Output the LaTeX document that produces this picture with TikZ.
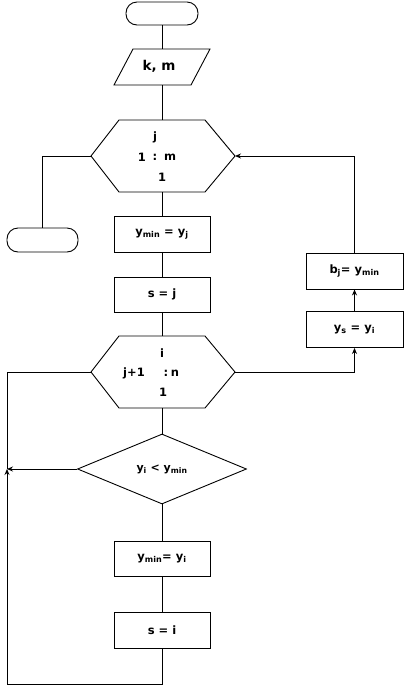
\documentclass[tikz,border=0pt]{standalone}
\usepackage{fontspec}
\setmainfont{DejaVu Sans}
\usetikzlibrary{shapes.geometric,arrows.meta}
\tikzset{
  ln/.style={line width=0.9pt, black},
  arr/.style={ln, -{Stealth[length=6pt,width=5pt]}},
  term/.style={draw, line width=0.9pt, rounded corners=11pt, minimum width=72pt, minimum height=23pt, inner sep=0pt},
  procbox/.style={draw, line width=0.9pt, minimum width=96pt, minimum height=36pt, inner sep=0pt, font=\bfseries\fontsize{11.5}{13}\selectfont},
  txt/.style={inner sep=0pt, font=\bfseries\fontsize{11.5}{13}\selectfont},
  cond/.style={draw, line width=0.9pt, diamond, minimum width=169pt, minimum height=70pt, inner sep=0pt, font=\bfseries\fontsize{11}{13}\selectfont}
}
\begin{document}
\begin{tikzpicture}[x=1pt,y=-1pt]
\useasboundingbox (0,0) rectangle (405,686);
% terminators
\node[term] (t1) at (162,13.5) {};
\node[term, minimum width=71pt, minimum height=24pt] (t2) at (42.5,240) {};
% parallelogram
\coordinate (pTL) at (133,49); \coordinate (pTR) at (210,49);
\coordinate (pBR) at (191,85); \coordinate (pBL) at (114,85);
\coordinate (pN) at (162,49); \coordinate (pS) at (162,85);
\draw[ln] (pTL) -- (pTR) -- (pBR) -- (pBL) -- cycle;
\node[txt, font=\bfseries\fontsize{13.5}{15}\selectfont] (km) at (159,66) {k, m};
% hexagon 1
\coordinate (h1W) at (91,156); \coordinate (h1E) at (235,156);
\coordinate (h1N) at (162,120); \coordinate (h1S) at (162,192);
\draw[ln] (h1W) -- (119,120) -- (205,120) -- (h1E) -- (205,192) -- (119,192) -- cycle;
\node[txt] (h1a) at (155,137) {j};
\node[txt] (h1b1) at (142,157) {1};
\node[txt] (h1b2) at (155,157) {:};
\node[txt] (h1b3) at (170,157) {m};
\node[txt] (h1c) at (162,177) {1};
% boxes
\node[procbox] (b1) at (162,234) {y\textsubscript{min} = y\textsubscript{j}};
\node[procbox, minimum height=35pt] (b2) at (162,294.5) {s = j};
% hexagon 2
\coordinate (h2W) at (91,372); \coordinate (h2E) at (235,372);
\coordinate (h2N) at (162,336); \coordinate (h2S) at (162,408);
\draw[ln] (h2W) -- (119,336) -- (205,336) -- (h2E) -- (205,408) -- (119,408) -- cycle;
\node[txt] (h2a) at (162,353) {i};
\node[txt] (h2b1) at (134,373) {j+1};
\node[txt] (h2b2) at (166,373) {:};
\node[txt] (h2b3) at (175,373) {n};
\node[txt] (h2c) at (163,392) {1};
% diamond
\node[cond] (d) at (162,469) {y\textsubscript{i} < y\textsubscript{min}};
\node[procbox, minimum height=35pt] (b3) at (162,558.5) {y\textsubscript{min}= y\textsubscript{i}};
\node[procbox] (b4) at (162,630) {s = i};
% right boxes
\node[procbox, minimum width=97pt] (b5) at (354.5,329.5) {y\textsubscript{s} = y\textsubscript{i}};
\node[procbox, minimum width=97pt] (b6) at (354.5,271) {b\textsubscript{j}= y\textsubscript{min}};
% junction coordinates
\coordinate (jL) at (7,469);
\coordinate (bl) at (7,684);
\coordinate (br) at (162,684);
\coordinate (tl) at (7,372);
% connectors
\draw[ln] (t1.south) -- (pN);
\draw[ln] (pS) -- (h1N);
\draw[ln] (h1W) -| (t2.north);
\draw[ln] (h1S) -- (b1.north);
\draw[ln] (b1.south) -- (b2.north);
\draw[ln] (b2.south) -- (h2N);
\draw[ln] (h2S) -- (d.north);
\draw[ln] (d.south) -- (b3.north);
\draw[ln] (b3.south) -- (b4.north);
\draw[arr] (b4.south) -- (br) -- (bl) -- (jL);
\draw[ln] (jL) -- (tl) -- (h2W);
\draw[arr] (d.west) -- (jL);
\draw[arr] (h2E) -| (b5.south);
\draw[arr] (b5.north) -- (b6.south);
\draw[arr] (b6.north) |- (h1E);
\end{tikzpicture}
\end{document}
